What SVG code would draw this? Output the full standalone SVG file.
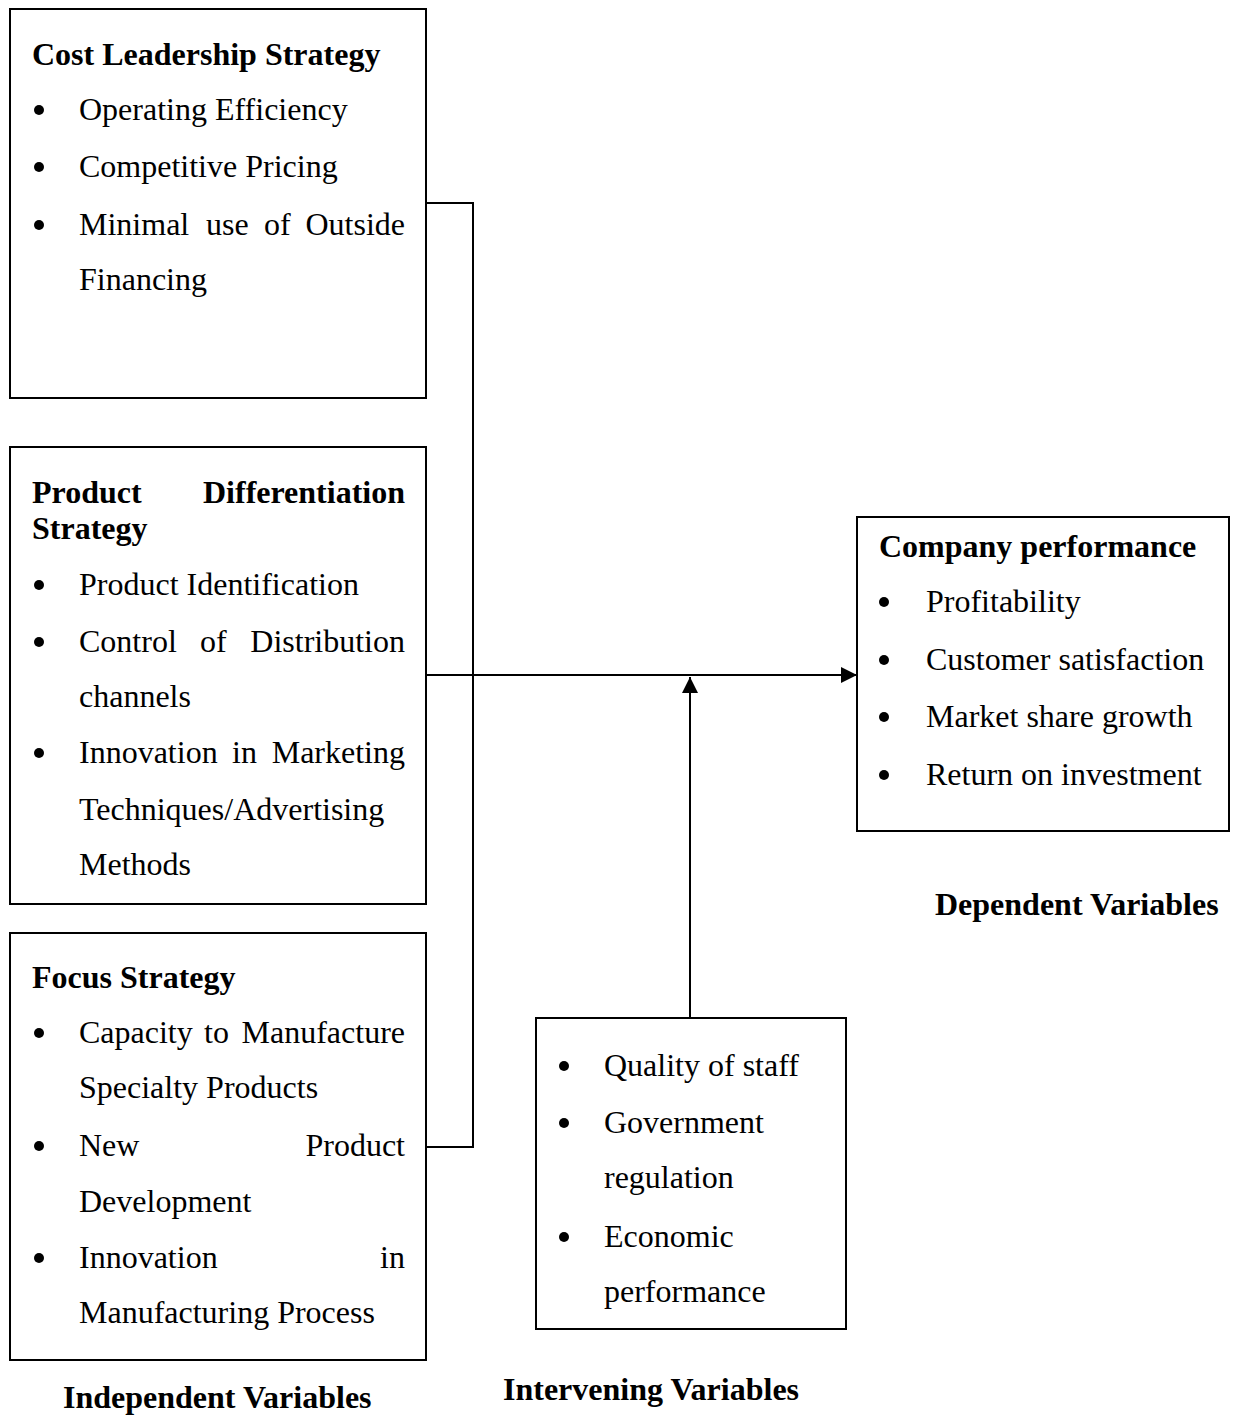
<svg xmlns="http://www.w3.org/2000/svg" width="1241" height="1416" viewBox="0 0 1241 1416">
<style>
  .box { fill: #ffffff; stroke: #000000; stroke-width: 2; }
  .t { font-family: "Liberation Serif", "Times New Roman", serif; font-size: 32px; fill: #000000; }
  .b { font-weight: bold; }
  .bul { fill: #000000; }
  .conn { fill: none; stroke: #000000; stroke-width: 2; }
</style>
<defs>
  <marker id="arrow" viewBox="0 0 16 16" refX="16" refY="8" markerWidth="16" markerHeight="16" markerUnits="userSpaceOnUse" orient="auto">
    <path d="M0,0 L16,8 L0,16 Z" fill="#000000"/>
  </marker>
</defs>
<rect width="1241" height="1416" fill="#ffffff"/>

<g id="connectors">
  <path class="conn" d="M426,203 H473 V1147 H426"/>
  <path class="conn" d="M426,675 H857" marker-end="url(#arrow)"/>
  <path class="conn" d="M690,1018 V677" marker-end="url(#arrow)"/>
</g>

<g id="cost-leadership">
  <rect class="box" x="10" y="9" width="416" height="389"/>
  <text class="t b" x="32" y="65">Cost Leadership Strategy</text>
  <circle class="bul" cx="39" cy="110" r="5"/>
  <text class="t" x="79" y="120">Operating Efficiency</text>
  <circle class="bul" cx="39" cy="167" r="5"/>
  <text class="t" x="79" y="177">Competitive Pricing</text>
  <circle class="bul" cx="39" cy="225" r="5"/>
  <text class="t" y="235"><tspan x="79">Minimal</tspan><tspan x="206">use</tspan><tspan x="264">of</tspan></text>
  <text class="t" x="405" y="235" text-anchor="end">Outside</text>
  <text class="t" x="79" y="290">Financing</text>
</g>

<g id="product-differentiation">
  <rect class="box" x="10" y="447" width="416" height="457"/>
  <text class="t b" x="32" y="503">Product</text>
  <text class="t b" x="405" y="503" text-anchor="end">Differentiation</text>
  <text class="t b" x="32" y="539">Strategy</text>
  <circle class="bul" cx="39" cy="585" r="5"/>
  <text class="t" x="79" y="595">Product Identification</text>
  <circle class="bul" cx="39" cy="642" r="5"/>
  <text class="t" y="652"><tspan x="79">Control</tspan><tspan x="200">of</tspan></text>
  <text class="t" x="405" y="652" text-anchor="end">Distribution</text>
  <text class="t" x="79" y="707">channels</text>
  <circle class="bul" cx="39" cy="753" r="5"/>
  <text class="t" y="763"><tspan x="79">Innovation</tspan><tspan x="232">in</tspan></text>
  <text class="t" x="405" y="763" text-anchor="end">Marketing</text>
  <text class="t" x="79" y="820">Techniques/Advertising</text>
  <text class="t" x="79" y="875">Methods</text>
</g>

<g id="focus-strategy">
  <rect class="box" x="10" y="933" width="416" height="427"/>
  <text class="t b" x="32" y="988">Focus Strategy</text>
  <circle class="bul" cx="39" cy="1033" r="5"/>
  <text class="t" y="1043"><tspan x="79">Capacity</tspan><tspan x="204">to</tspan></text>
  <text class="t" x="405" y="1043" text-anchor="end">Manufacture</text>
  <text class="t" x="79" y="1098">Specialty Products</text>
  <circle class="bul" cx="39" cy="1146" r="5"/>
  <text class="t" x="79" y="1156">New</text>
  <text class="t" x="405" y="1156" text-anchor="end">Product</text>
  <text class="t" x="79" y="1212">Development</text>
  <circle class="bul" cx="39" cy="1258" r="5"/>
  <text class="t" x="79" y="1268">Innovation</text>
  <text class="t" x="405" y="1268" text-anchor="end">in</text>
  <text class="t" x="79" y="1323">Manufacturing Process</text>
</g>

<g id="intervening">
  <rect class="box" x="536" y="1018" width="310" height="311"/>
  <circle class="bul" cx="564" cy="1066" r="5"/>
  <text class="t" x="604" y="1076">Quality of staff</text>
  <circle class="bul" cx="564" cy="1123" r="5"/>
  <text class="t" x="604" y="1133">Government</text>
  <text class="t" x="604" y="1188">regulation</text>
  <circle class="bul" cx="564" cy="1237" r="5"/>
  <text class="t" x="604" y="1247">Economic</text>
  <text class="t" x="604" y="1302">performance</text>
</g>

<g id="company-performance">
  <rect class="box" x="857" y="517" width="372" height="314"/>
  <text class="t b" x="879" y="557">Company performance</text>
  <circle class="bul" cx="884" cy="602" r="5"/>
  <text class="t" x="926" y="612">Profitability</text>
  <circle class="bul" cx="884" cy="660" r="5"/>
  <text class="t" x="926" y="670">Customer satisfaction</text>
  <circle class="bul" cx="884" cy="717" r="5"/>
  <text class="t" x="926" y="727">Market share growth</text>
  <circle class="bul" cx="884" cy="775" r="5"/>
  <text class="t" x="926" y="785">Return on investment</text>
</g>

<g id="label-independent">
  <text class="t b" x="63" y="1408">Independent Variables</text>
</g>
<g id="label-intervening">
  <text class="t b" x="503" y="1400">Intervening Variables</text>
</g>
<g id="label-dependent">
  <text class="t b" x="935" y="915">Dependent Variables</text>
</g>
</svg>
